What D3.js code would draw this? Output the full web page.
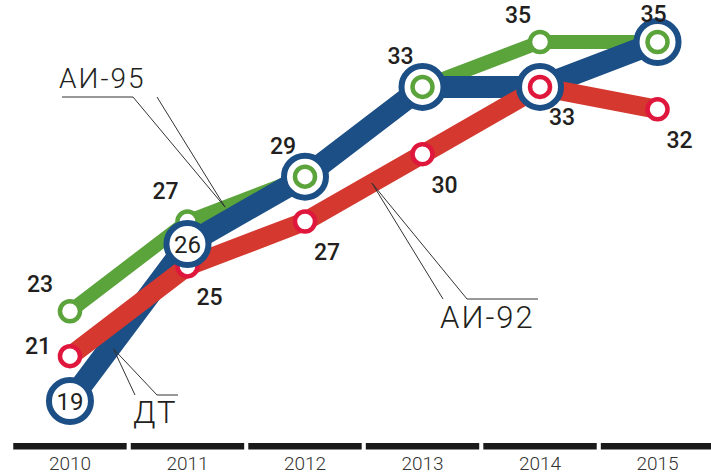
<!DOCTYPE html>
<html>
<head>
<meta charset="utf-8">
<script src="https://cdn.jsdelivr.net/npm/d3@7"></script>
<style>
body { margin:0; background:#fff; }
svg { display:block; }
</style>
</head>
<body>
<div id="chart"></div>
<script>
var years = ['2010','2011','2012','2013','2014','2015']
var ai95 = [23, 27, 29, 33, 35, 35]
var ai92 = [21, 25, 27, 30, 33, 32]
var dt = [19, 26, 29, 33, 33, 35]

var width = 711, height = 476
var svg = d3.select('#chart').append('svg')
	.attr('width', width)
	.attr('height', height)

var xBand = d3.scaleBand()
	.domain(years)
	.range([11.5, 716])
	.paddingInner(0.035)
	.paddingOuter(0.015)
function cx(y) { return xBand(y) + xBand.bandwidth() / 2 }

var yScale = d3.scaleLinear()
	.domain([19, 35])
	.range([401, 42])

var green = '#5ba33b', blue = '#1b4f85', red = '#d4382f', redRing = '#e0173c', ink = '#231f20'

function pts(vals) { return vals.map(function(v, i) { return [cx(years[i]), yScale(v)] }) }
var line = d3.line()

// lines
svg.append('path').attr('d', line(pts(ai95))).attr('fill','none')
	.attr('stroke', green).attr('stroke-width', 14).attr('stroke-linejoin','round')
svg.append('path').attr('d', line(pts(dt))).attr('fill','none')
	.attr('stroke', blue).attr('stroke-width', 22).attr('stroke-linejoin','round')
svg.append('path').attr('d', line(pts(ai92))).attr('fill','none')
	.attr('stroke', red).attr('stroke-width', 19).attr('stroke-linejoin','round')

// bottom bars
svg.selectAll('rect.bar').data(years).enter().append('rect')
	.attr('class','bar')
	.attr('x', function(d) { return xBand(d) })
	.attr('y', 443)
	.attr('width', xBand.bandwidth())
	.attr('height', 6.5)
	.attr('fill', '#1a1a1a')
svg.selectAll('text.year').data(years).enter().append('text')
	.attr('class','year')
	.attr('x', function(d) { return cx(d) })
	.attr('y', 470)
	.attr('text-anchor','middle')
	.attr('font-family','Roboto, sans-serif')
	.attr('font-weight', 300)
	.attr('font-size', 19)
	.attr('fill', '#333')
	.text(function(d) { return d })

function smallCircles(vals, color, filter) {
	svg.append('g').selectAll('circle')
		.data(vals.map(function(v, i) { return {v: v, i: i} }).filter(filter))
		.enter().append('circle')
		.attr('cx', function(d) { return cx(years[d.i]) })
		.attr('cy', function(d) { return yScale(d.v) })
		.attr('r', 10)
		.attr('fill', '#fff')
		.attr('stroke', color)
		.attr('stroke-width', 4.5)
}
var all = function() { return true }
smallCircles(ai95, green, all)
smallCircles(ai92, redRing, all)

// blue rings
svg.append('g').selectAll('circle')
	.data(dt.map(function(v, i) { return {v: v, i: i} }))
	.enter().append('circle')
	.attr('cx', function(d) { return cx(years[d.i]) })
	.attr('cy', function(d) { return yScale(d.v) })
	.attr('r', 21)
	.attr('fill', '#fff')
	.attr('stroke', blue)
	.attr('stroke-width', 6)

smallCircles(ai95, green, function(d) { return dt[d.i] === d.v })
smallCircles(ai92, redRing, function(d) { return dt[d.i] === d.v && ai95[d.i] !== d.v })

// value labels
function label(x, y, t, size, weight) {
	svg.append('text')
		.attr('x', x).attr('y', y)
		.attr('text-anchor','middle')
		.attr('dominant-baseline','central')
		.attr('font-family','Roboto, sans-serif')
		.attr('font-weight', weight || 500)
		.attr('font-size', size || 23)
		.attr('fill', ink)
		.text(t)
}
ai95.forEach(function(v, i) {
	var dx = -22, dy = -30
	if (i === 0) { dx = -30; dy = -27 }
	if (i === 4) { dy = -27 }
	if (i === years.length - 1) { dx = -4; dy = -28 }
	label(cx(years[i]) + dx, yScale(v) + dy, v)
})
ai92.forEach(function(v, i) {
	var dx = 22, dy = 31
	if (i === 0) { dx = -32; dy = -10 }
	label(cx(years[i]) + dx, yScale(v) + dy, v)
})
dt.forEach(function(v, i) {
	if (v !== ai95[i] && v !== ai92[i]) label(cx(years[i]), yScale(v) + 1, v, 24, 400)
})

// series annotations
function along(vals, i, f) {
	var a = pts(vals)
	return [a[i][0] + (a[i+1][0] - a[i][0]) * f, a[i][1] + (a[i+1][1] - a[i][1]) * f]
}
function leader(anchor, p1, p2, p3) {
	svg.append('path')
		.attr('d', 'M' + p1 + 'L' + anchor + 'L' + p2 + 'L' + p3)
		.attr('fill','none').attr('stroke','#333').attr('stroke-width', 1)
}
function annText(x, y, t, size) {
	svg.append('text')
		.attr('x', x).attr('y', y)
		.attr('font-family','Roboto, sans-serif')
		.attr('font-weight', 300)
		.attr('font-size', size)
		.attr('letter-spacing', 2)
		.attr('fill', ink)
		.text(t)
}

var a95 = along(ai95, 1, 0.32)
leader(a95, [157, 97], [133, 97], [62, 97])
annText(59, 88, 'АИ-95', 28)

var a92 = along(ai92, 2, 0.57)
leader(a92, [443, 299], [467, 299], [538, 299])
annText(440, 328, 'АИ-92', 31)

var aDt = along(dt, 0, 0.37)
leader([aDt[0], aDt[1] + 6], [135, 395], [157, 395], [178, 395])
annText(133, 423, 'ДТ', 31)
</script>
</body>
</html>
